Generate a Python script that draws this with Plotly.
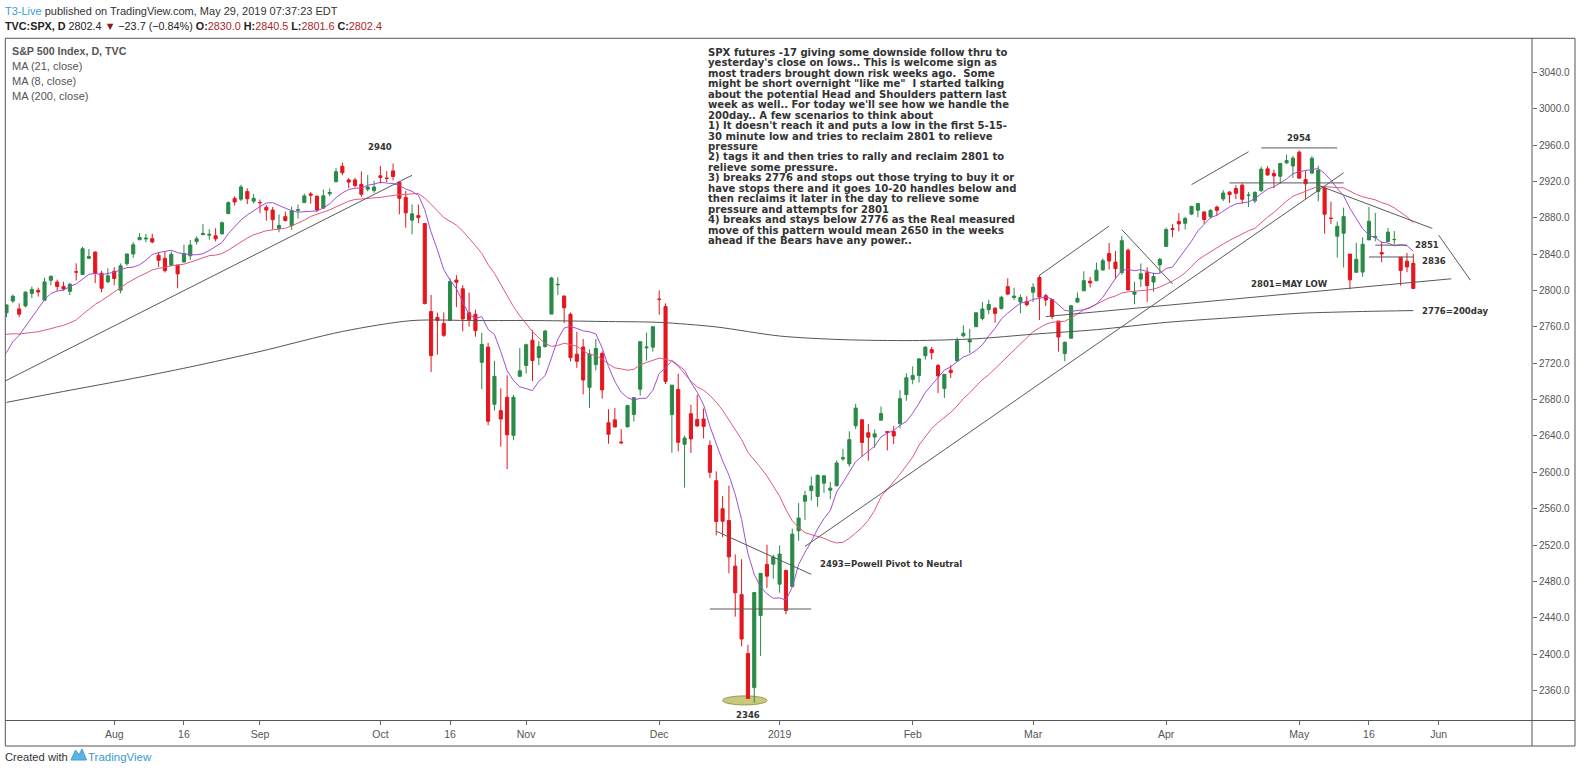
import pandas as pd
import plotly.graph_objects as go

# ---------------- data ----------------
HOLIDAYS = ["2018-07-04", "2018-09-03", "2018-11-22", "2018-12-05", "2018-12-25",
            "2019-01-01", "2019-01-21", "2019-02-18", "2019-04-19", "2019-05-27"]

# closes before the first visible bar (used only to warm up the 8/21 averages)
PRE_CLOSE = [2734.62, 2746.87, 2748.80, 2772.35, 2770.37, 2779.03, 2782.00, 2786.85,
             2775.63, 2782.49, 2779.66, 2773.75, 2762.59, 2767.32, 2749.76, 2754.88,
             2717.07, 2723.06, 2699.63, 2716.31, 2718.37, 2726.71, 2713.22, 2736.61, 2759.82]

OPEN = [
    # Jul 2018
    2775.62, 2788.56, 2779.82, 2783.14, 2796.93, 2800.30, 2789.34, 2811.35, 2809.37, 2804.55,
    2799.17, 2820.68, 2817.73, 2835.49, 2842.35, 2819.00, 2809.73,
    # Aug
    2821.17, 2800.48, 2829.62, 2840.29, 2855.92, 2856.79, 2857.19, 2838.90, 2835.46, 2827.88,
    2827.95, 2831.44, 2838.32, 2853.93, 2861.51, 2860.99, 2860.29, 2862.35, 2884.69, 2901.45,
    2900.62, 2908.94, 2898.37,
    # Sep
    2896.96, 2891.59, 2888.64, 2868.26, 2881.39, 2871.57, 2888.29, 2896.85, 2906.38, 2903.83,
    2890.74, 2906.60, 2919.73, 2936.76, 2921.83, 2921.75, 2916.98, 2911.65, 2910.03,
    # Oct
    2926.29, 2923.80, 2931.69, 2919.35, 2902.54, 2877.53, 2882.51, 2873.90, 2776.87, 2770.54,
    2763.83, 2767.05, 2811.67, 2802.00, 2775.66, 2773.94, 2721.03, 2737.87, 2674.88, 2667.86,
    2682.65, 2640.68, 2705.60,
    # Nov
    2717.58, 2745.45, 2726.37, 2738.40, 2774.13, 2806.38, 2794.10, 2773.93, 2730.05, 2737.90,
    2693.52, 2718.54, 2730.74, 2654.60, 2657.74, 2633.36, 2649.97, 2663.75, 2691.45, 2736.97,
    2737.76,
    # Dec
    2790.50, 2782.43, 2663.51, 2691.26, 2630.86, 2664.44, 2658.23, 2658.70, 2629.68, 2590.75,
    2559.90, 2547.05, 2496.77, 2465.38, 2400.56, 2363.12, 2442.50, 2498.77, 2498.94,
    # Jan 2019
    2476.96, 2491.92, 2474.33, 2535.61, 2568.11, 2580.00, 2573.51, 2588.11, 2580.31, 2585.10,
    2614.75, 2609.28, 2651.27, 2657.88, 2643.48, 2638.84, 2657.44, 2644.97, 2644.89, 2653.62,
    2685.49,
    # Feb
    2702.32, 2706.49, 2728.34, 2735.05, 2717.53, 2692.36, 2712.40, 2722.61, 2750.30, 2743.50,
    2760.24, 2769.28, 2779.05, 2780.67, 2780.24, 2804.35, 2792.36, 2787.50, 2788.11,
    # Mar
    2798.22, 2814.37, 2794.41, 2790.27, 2766.53, 2730.79, 2747.61, 2787.34, 2799.78, 2810.38,
    2810.79, 2822.61, 2840.76, 2831.34, 2819.72, 2844.52, 2796.01, 2812.66, 2819.72, 2809.40,
    2828.27,
    # Apr
    2848.63, 2868.24, 2876.09, 2873.99, 2884.16, 2888.46, 2886.58, 2881.37, 2891.92, 2900.86,
    2908.32, 2912.26, 2916.04, 2904.81, 2898.78, 2909.99, 2934.00, 2928.99, 2925.81, 2940.58,
    2937.14,
    # May
    2952.33, 2922.16, 2929.21, 2908.89, 2913.03, 2879.61, 2859.84, 2863.10, 2840.19, 2820.12,
    2820.38, 2855.80, 2858.60, 2841.94, 2854.02, 2856.06, 2836.70, 2832.41, 2830.03,
]

HIGH = [
    2784.65, 2795.58, 2785.91, 2799.22, 2804.53, 2803.20, 2814.19, 2816.76, 2812.05, 2809.70,
    2808.61, 2829.99, 2848.03, 2845.57, 2843.17, 2821.74, 2824.46,
    2825.83, 2829.91, 2840.38, 2853.29, 2863.43, 2862.44, 2862.48, 2842.20, 2843.40, 2843.11,
    2827.95, 2850.49, 2855.63, 2859.76, 2873.23, 2867.54, 2868.78, 2876.16, 2898.25, 2903.77,
    2916.50, 2912.46, 2906.32,
    2900.18, 2894.21, 2892.05, 2883.81, 2886.93, 2892.52, 2894.65, 2906.76, 2908.30, 2904.65,
    2911.17, 2912.36, 2934.80, 2940.91, 2923.79, 2923.95, 2931.15, 2927.22, 2920.53,
    2937.06, 2931.42, 2939.86, 2919.78, 2909.64, 2894.83, 2894.83, 2874.02, 2795.14, 2775.77,
    2775.99, 2813.46, 2816.94, 2806.04, 2797.77, 2778.94, 2753.59, 2742.59, 2722.70, 2692.38,
    2706.85, 2685.43, 2736.69,
    2741.67, 2756.55, 2744.27, 2756.82, 2815.15, 2814.75, 2794.10, 2775.99, 2754.60, 2746.80,
    2735.38, 2746.75, 2733.16, 2669.44, 2670.73, 2647.55, 2674.35, 2682.53, 2744.00, 2753.75,
    2760.88,
    2800.18, 2785.93, 2696.15, 2708.54, 2640.27, 2674.35, 2685.44, 2670.19, 2635.07, 2601.13,
    2573.99, 2585.29, 2509.63, 2504.41, 2410.34, 2467.76, 2489.10, 2520.27, 2509.24,
    2519.49, 2493.14, 2538.07, 2566.16, 2579.82, 2595.32, 2597.82, 2596.27, 2589.32, 2613.08,
    2625.76, 2645.06, 2675.47, 2657.88, 2653.19, 2647.20, 2672.38, 2644.97, 2650.93, 2690.44,
    2708.95,
    2716.66, 2724.99, 2738.98, 2738.08, 2719.32, 2708.07, 2718.05, 2748.19, 2761.85, 2757.90,
    2775.66, 2787.33, 2789.88, 2781.58, 2794.20, 2813.49, 2803.12, 2795.76, 2793.73,
    2808.02, 2816.88, 2796.44, 2790.27, 2766.53, 2744.13, 2784.00, 2798.03, 2821.24, 2815.00,
    2830.73, 2835.41, 2852.42, 2843.54, 2860.31, 2846.16, 2809.79, 2829.87, 2825.56, 2819.71,
    2836.03,
    2869.40, 2872.90, 2885.25, 2881.28, 2893.24, 2895.95, 2886.88, 2889.71, 2893.42, 2910.54,
    2909.60, 2916.06, 2918.00, 2908.40, 2909.51, 2936.31, 2936.83, 2933.10, 2939.88, 2949.52,
    2948.22,
    2954.13, 2931.68, 2947.85, 2937.32, 2913.03, 2897.96, 2875.97, 2891.31, 2840.19, 2852.54,
    2858.68, 2892.15, 2885.48, 2853.86, 2868.88, 2865.47, 2836.70, 2841.36, 2840.51,
]

LOW = [
    2770.73, 2786.24, 2770.77, 2781.53, 2791.69, 2793.40, 2789.24, 2805.89, 2799.77, 2800.01,
    2795.14, 2811.12, 2817.73, 2835.26, 2808.34, 2798.11, 2808.06,
    2805.85, 2796.94, 2827.37, 2835.98, 2855.92, 2853.09, 2851.98, 2825.81, 2819.88, 2826.58,
    2802.49, 2831.44, 2833.73, 2850.62, 2861.32, 2856.05, 2854.03, 2862.35, 2884.69, 2893.50,
    2898.40, 2895.22, 2895.77,
    2885.13, 2876.92, 2867.29, 2864.12, 2875.94, 2866.78, 2879.20, 2896.39, 2895.77, 2886.16,
    2890.43, 2903.82, 2919.73, 2927.11, 2912.63, 2913.70, 2903.28, 2909.27, 2907.50,
    2917.91, 2919.37, 2921.36, 2883.92, 2869.29, 2862.08, 2874.27, 2784.86, 2710.51, 2729.44,
    2749.03, 2766.91, 2781.81, 2755.18, 2760.27, 2749.22, 2691.43, 2651.89, 2667.84, 2628.16,
    2603.54, 2635.34, 2705.60,
    2708.85, 2700.44, 2717.94, 2737.08, 2774.13, 2794.99, 2764.24, 2722.00, 2714.98, 2685.75,
    2670.75, 2712.16, 2681.09, 2631.52, 2649.82, 2631.09, 2649.97, 2655.89, 2684.38, 2722.94,
    2732.76,
    2773.38, 2697.18, 2621.53, 2623.14, 2583.23, 2621.30, 2650.26, 2637.27, 2593.84, 2530.54,
    2528.71, 2488.96, 2441.18, 2408.55, 2351.10, 2346.58, 2397.94, 2472.89, 2482.82,
    2467.47, 2443.96, 2474.33, 2524.56, 2547.56, 2568.89, 2562.02, 2577.40, 2570.41, 2585.10,
    2612.68, 2606.36, 2647.58, 2617.27, 2612.86, 2627.01, 2657.33, 2624.06, 2631.05, 2648.34,
    2678.65,
    2696.88, 2698.75, 2724.03, 2724.15, 2687.26, 2681.83, 2703.79, 2722.61, 2748.63, 2731.23,
    2760.24, 2767.29, 2774.06, 2764.55, 2779.11, 2794.99, 2789.47, 2775.13, 2782.51,
    2787.38, 2767.66, 2782.97, 2768.69, 2732.81, 2722.27, 2747.61, 2786.73, 2799.78, 2803.46,
    2810.79, 2821.99, 2823.27, 2812.43, 2817.38, 2800.47, 2785.02, 2803.99, 2787.72, 2798.77,
    2819.23,
    2848.63, 2858.75, 2865.17, 2867.14, 2882.99, 2880.78, 2873.33, 2879.13, 2881.99, 2898.37,
    2896.48, 2900.71, 2895.45, 2891.90, 2896.35, 2908.53, 2926.47, 2912.84, 2917.56, 2939.35,
    2924.11,
    2923.36, 2900.50, 2929.21, 2898.21, 2862.60, 2873.28, 2836.40, 2825.39, 2801.43, 2820.12,
    2815.08, 2855.80, 2854.23, 2831.29, 2854.02, 2851.11, 2805.49, 2820.19, 2801.58,
]

CLOSE = [
    2784.17, 2793.84, 2774.02, 2798.29, 2801.31, 2798.43, 2809.55, 2815.62, 2804.49, 2801.83,
    2806.98, 2820.40, 2846.07, 2837.44, 2818.82, 2802.60, 2816.29,
    2813.36, 2827.22, 2840.35, 2850.40, 2858.45, 2857.70, 2853.58, 2833.28, 2821.93, 2839.96,
    2818.37, 2840.69, 2850.13, 2857.05, 2862.96, 2861.82, 2856.98, 2874.69, 2896.74, 2897.52,
    2914.04, 2901.13, 2901.52,
    2896.72, 2888.60, 2878.05, 2871.68, 2877.13, 2887.89, 2888.92, 2904.18, 2904.98, 2888.80,
    2904.31, 2907.95, 2930.75, 2929.67, 2919.37, 2915.56, 2905.97, 2914.00, 2913.98,
    2924.59, 2923.43, 2925.51, 2901.61, 2885.57, 2884.43, 2880.34, 2785.68, 2728.37, 2767.13,
    2750.79, 2809.92, 2809.21, 2768.78, 2767.78, 2755.88, 2740.69, 2656.10, 2705.57, 2658.69,
    2641.25, 2682.63, 2711.74,
    2740.37, 2723.06, 2738.31, 2755.45, 2813.89, 2806.83, 2781.01, 2726.22, 2722.18, 2701.58,
    2730.20, 2736.27, 2690.73, 2641.89, 2649.93, 2632.56, 2673.45, 2682.17, 2743.79, 2737.80,
    2760.17,
    2790.37, 2700.06, 2695.95, 2633.08, 2637.72, 2636.78, 2651.07, 2650.54, 2599.95, 2545.94,
    2546.16, 2506.96, 2467.42, 2416.62, 2351.10, 2467.70, 2488.83, 2485.74, 2506.85,
    2510.03, 2447.89, 2531.94, 2549.69, 2574.41, 2584.96, 2596.64, 2596.26, 2582.61, 2610.30,
    2616.10, 2635.96, 2670.71, 2632.90, 2638.70, 2642.33, 2664.76, 2643.85, 2640.00, 2681.05,
    2704.10,
    2706.53, 2724.87, 2737.70, 2731.61, 2706.05, 2707.88, 2709.80, 2744.73, 2753.03, 2745.73,
    2775.60, 2779.76, 2784.70, 2774.88, 2792.67, 2796.11, 2793.90, 2792.38, 2784.49,
    2803.69, 2792.81, 2789.65, 2771.45, 2748.93, 2743.07, 2783.30, 2791.52, 2810.92, 2808.48,
    2822.48, 2832.94, 2832.57, 2824.23, 2854.88, 2800.71, 2798.36, 2818.46, 2805.37, 2815.44,
    2834.40,
    2867.19, 2867.24, 2873.40, 2879.39, 2892.74, 2895.77, 2878.20, 2888.21, 2888.32, 2907.41,
    2905.58, 2907.06, 2900.45, 2905.03, 2907.97, 2933.68, 2927.25, 2926.17, 2939.88, 2943.03,
    2945.83,
    2923.73, 2917.52, 2945.64, 2932.47, 2884.05, 2879.42, 2870.72, 2881.40, 2811.87, 2834.41,
    2850.96, 2876.32, 2859.53, 2840.23, 2864.36, 2856.27, 2822.24, 2826.06, 2802.39,
]

# 200-day average
MA200_DATES = ["2018-07-09", "2018-07-20", "2018-08-03", "2018-08-17", "2018-09-04",
               "2018-09-21", "2018-10-08", "2018-10-22", "2018-11-05", "2018-11-19",
               "2018-12-03", "2018-12-17", "2019-01-02", "2019-01-16", "2019-02-01",
               "2019-02-15", "2019-03-01", "2019-03-15", "2019-04-01", "2019-04-15",
               "2019-05-01", "2019-05-15", "2019-05-28"]
MA200_VALUES = [2677, 2689, 2702, 2716, 2733, 2755, 2767, 2767, 2767, 2766,
                2765, 2760, 2750, 2746, 2745, 2747, 2752, 2757, 2765, 2770,
                2775, 2777, 2778]

TICK_DATES = ["2018-08-01", "2018-08-16", "2018-09-04", "2018-10-01", "2018-10-16",
              "2018-11-01", "2018-12-03", "2019-01-02", "2019-02-01", "2019-03-01",
              "2019-04-01", "2019-05-01", "2019-05-16", "2019-06-03"]
TICK_TEXT = ["Aug", "16", "Sep", "Oct", "16", "Nov", "Dec", "2019", "Feb", "Mar",
             "Apr", "May", "16", "Jun"]
PRICE_TICKS = list(range(2360, 3041, 40))

# drawn trend lines: (date0, value0, date1, value1)
TRENDLINES = [
    ("2018-07-06", 2697.7, "2018-10-08", 2926.9),
    ("2019-01-08", 2518.4, "2019-05-10", 2929.6),
    ("2018-12-17", 2535.2, "2019-01-09", 2487.7),
    ("2018-12-14", 2449.6, "2019-01-09", 2449.6),
    ("2019-03-04", 2816.8, "2019-03-19", 2871.0),
    ("2019-03-21", 2867.1, "2019-04-02", 2807.3),
    ("2019-04-05", 2916.6, "2019-04-18", 2952.8),
    ("2019-04-23", 2957.0, "2019-05-09", 2957.0),
    ("2019-04-15", 2918.5, "2019-05-10", 2918.5),
    ("2019-03-05", 2771.4, "2019-06-05", 2813.0),
    ("2019-05-06", 2915.8, "2019-05-31", 2868.4),
    ("2019-06-03", 2861.0, "2019-06-10", 2811.5),
    ("2019-05-17", 2850.0, "2019-05-24", 2850.0),
    ("2019-05-16", 2837.0, "2019-05-28", 2837.0),
]
ELLIPSE = ("2018-12-18", 2344.0, "2018-12-28", 2354.0)

LEVEL_LABELS = [
    ("2940", "2018-10-01", 2959.0, "center"),
    ("2954", "2019-05-01", 2968.7, "center"),
    ("2346", "2018-12-24", 2334.0, "center"),
    ("2493=Powell Pivot to Neutral", "2019-01-10", 2499.4, "left"),
    ("2801=MAY LOW", "2019-04-18", 2808.0, "left"),
    ("2776=200day", "2019-05-29", 2778.0, "left"),
    ("2851", "2019-05-28", 2850.2, "left"),
    ("2836", "2019-05-29", 2832.6, "left"),
]

NOTE_LINES = [
    "SPX futures -17 giving some downside follow thru to",
    "yesterday's close on lows.. This is welcome sign as",
    "most traders brought down risk weeks ago.  Some",
    "might be short overnight \"like me\"  I started talking",
    "about the potential Head and Shoulders pattern last",
    "week as well.. For today we'll see how we handle the",
    "200day.. A few scenarios to think about",
    "1) It doesn't reach it and puts a low in the first 5-15-",
    "30 minute low and tries to reclaim 2801 to relieve",
    "pressure",
    "2) tags it and then tries to rally and reclaim 2801 to",
    "relieve some pressure.",
    "3) breaks 2776 and stops out those trying to buy it or",
    "have stops there and it goes 10-20 handles below and",
    "then reclaims it later in the day to relieve some",
    "pressure and attempts for 2801",
    "4) breaks and stays below 2776 as the Real measured",
    "move of this pattern would mean 2650 in the weeks",
    "ahead if the Bears have any power..",
]

LEGEND_LINES = ["S&P 500 Index, D, TVC", "MA (21, close)", "MA (8, close)", "MA (200, close)"]

# ---------------- calendar / positions ----------------
cal = pd.bdate_range("2018-06-01", "2019-07-12", freq="C", holidays=HOLIDAYS)
CAL = [d.strftime("%Y-%m-%d") for d in cal]
POS = {d: i for i, d in enumerate(CAL)}
DATES = [d for d in CAL if "2018-07-09" <= d <= "2019-05-28"]
assert len(DATES) == len(CLOSE) == len(OPEN) == len(HIGH) == len(LOW)
PRE_DATES = [d for d in CAL if d < "2018-07-09"]
assert len(PRE_DATES) == len(PRE_CLOSE)

X = [POS[d] for d in DATES]
all_dates = PRE_DATES + DATES
all_close = pd.Series(PRE_CLOSE + CLOSE)
ma8 = all_close.rolling(8).mean()
ma21 = all_close.rolling(21).mean()
all_x = [POS[d] for d in all_dates]

# ---------------- layout geometry ----------------
W, H = 1578, 775
ML, MR, MT, MB = 5, 46, 38, 55
PW, PH = W - ML - MR, H - MT - MB


def px(x):
    return (x - ML) / PW


def py(y):
    return (H - MB - y) / PH


UP, DOWN = "#2a8a48", "#e4161e"
C_MA8, C_MA21, C_MA200 = "#a14fd3", "#e0587f", "#555555"
LINE_C = "#5a5a5a"
LBL_FONT = "DejaVu Sans Condensed, DejaVu Sans, Verdana, sans-serif"
UI_FONT = "Liberation Sans, Arial, sans-serif"
NARROW = "Liberation Sans Narrow, Liberation Sans, Arial, sans-serif"

fig = go.Figure()

fig.add_trace(go.Scatter(x=all_x, y=ma21, mode="lines",
                         line=dict(color=C_MA21, width=1), hoverinfo="skip"))
fig.add_trace(go.Scatter(x=all_x, y=ma8, mode="lines",
                         line=dict(color=C_MA8, width=1), hoverinfo="skip"))
fig.add_trace(go.Scatter(x=[POS[d] for d in MA200_DATES], y=MA200_VALUES, mode="lines",
                         line=dict(color=C_MA200, width=1, shape="spline", smoothing=0.8),
                         hoverinfo="skip"))

fig.add_trace(go.Candlestick(
    x=X, open=OPEN, high=HIGH, low=LOW, close=CLOSE,
    increasing=dict(line=dict(color=UP, width=1), fillcolor=UP),
    decreasing=dict(line=dict(color=DOWN, width=1), fillcolor=DOWN),
    whiskerwidth=0, showlegend=False,
))

shapes = []
for d0, v0, d1, v1 in TRENDLINES:
    shapes.append(dict(type="line", xref="x", yref="y", x0=POS[d0], y0=v0, x1=POS[d1], y1=v1,
                       line=dict(color=LINE_C, width=1)))
e0, ev0, e1, ev1 = ELLIPSE
shapes.append(dict(type="circle", xref="x", yref="y", x0=POS[e0], y0=ev0, x1=POS[e1], y1=ev1,
                   fillcolor="rgba(190,190,105,0.85)", line=dict(color="rgba(150,150,70,0.9)", width=1),
                   layer="below"))

# frame
FR_L, FR_R, FR_T, FR_B = 5.3, 1575, 38.3, 746
SEP_X, SEP_Y = 1532, 720.5
for (xa, ya, xb, yb) in [(FR_L, FR_T, FR_R, FR_T), (FR_L, FR_B, FR_R, FR_B),
                         (FR_L, FR_T, FR_L, FR_B), (FR_R, FR_T, FR_R, FR_B),
                         (SEP_X, FR_T, SEP_X, FR_B), (FR_L, SEP_Y, FR_R, SEP_Y)]:
    shapes.append(dict(type="line", xref="paper", yref="paper", x0=px(xa), y0=py(ya),
                       x1=px(xb), y1=py(yb), line=dict(color="#555555", width=1)))

# tradingview logo (small cloud)
shapes.append(dict(type="path", xref="paper", yref="paper",
                   path="M {} {} L {} {} L {} {} L {} {} L {} {} Z".format(
                       px(71), py(760), px(75.5), py(750), px(79), py(755), px(82), py(749),
                       px(86.5), py(760)),
                   fillcolor="#5eb4e0", line=dict(color="#3d9fd6", width=1)))

annotations = []
for text, d, v, anchor in LEVEL_LABELS:
    annotations.append(dict(x=POS[d], y=v, xref="x", yref="y", text=text, showarrow=False,
                            xanchor=anchor, yanchor="middle",
                            font=dict(family=LBL_FONT, size=9.5, color="#333333", weight="bold")))

for i, line in enumerate(NOTE_LINES):
    annotations.append(dict(x=px(707), y=py(52.5 + i * 10.45), xref="paper", yref="paper",
                            text=line, showarrow=False, xanchor="left", yanchor="middle",
                            borderpad=0,
                            font=dict(family=LBL_FONT, size=11.2, color="#333333", weight="bold")))

for i, line in enumerate(LEGEND_LINES):
    annotations.append(dict(x=px(10), y=py(50.6 + i * 15.2), xref="paper", yref="paper",
                            text=line, showarrow=False, xanchor="left", yanchor="middle",
                            font=dict(family=UI_FONT, size=11 if i else 10.7, color="#555555",
                                      weight="bold" if i == 0 else "normal")))

RED_V = "#a8262b"
header1 = ("<span style='color:#3a9bd1'>T3-Live</span>"
           "<span style='color:#333'> published on TradingView.com, May 29, 2019 07:37:23 EDT</span>")
header2 = ("<b>TVC:SPX, D</b> 2802.4 <span style='color:#8b1a1a'>▼</span> −23.7 (−0.84%) "
           "<b>O:</b><span style='color:{c}'>2830.0</span> <b>H:</b><span style='color:{c}'>2840.5</span> "
           "<b>L:</b><span style='color:{c}'>2801.6</span> <b>C:</b><span style='color:{c}'>2802.4</span>"
           ).format(c=RED_V)
annotations.append(dict(x=px(3), y=py(10.5), xref="paper", yref="paper", text=header1,
                        showarrow=False, xanchor="left", yanchor="middle",
                        font=dict(family=UI_FONT, size=11, color="#333")))
annotations.append(dict(x=px(3), y=py(26), xref="paper", yref="paper", text=header2,
                        showarrow=False, xanchor="left", yanchor="middle",
                        font=dict(family=UI_FONT, size=10.8, color="#222")))
annotations.append(dict(x=px(3), y=py(757), xref="paper", yref="paper", text="Created with",
                        showarrow=False, xanchor="left", yanchor="middle",
                        font=dict(family=UI_FONT, size=11.2, color="#333")))
annotations.append(dict(x=px(86), y=py(757), xref="paper", yref="paper", text="TradingView",
                        showarrow=False, xanchor="left", yanchor="middle",
                        font=dict(family=UI_FONT, size=11.5, color="#3a9bd1")))

j9 = POS["2018-07-09"]
BAR_PX = 6.337
x_left = j9 + (ML - 6.5) / BAR_PX
x_right = x_left + PW / BAR_PX
PX_PER_PT = 0.9087
y_top = 3040 + (72.5 - MT) / PX_PER_PT
y_bot = 3040 - (H - MB - 72.5) / PX_PER_PT

fig.update_layout(
    width=W, height=H,
    margin=dict(l=ML, r=MR, t=MT, b=MB),
    paper_bgcolor="white", plot_bgcolor="white",
    showlegend=False,
    shapes=shapes, annotations=annotations,
    xaxis=dict(range=[x_left, x_right], showgrid=False, zeroline=False,
               rangeslider=dict(visible=False),
               tickvals=[POS[d] for d in TICK_DATES], ticktext=TICK_TEXT,
               ticks="outside", ticklen=4, tickcolor="#666",
               tickfont=dict(family=NARROW, size=10.5, color="#555")),
    yaxis=dict(range=[y_bot, y_top], side="right", showgrid=False, zeroline=False,
               tickmode="array", tickvals=PRICE_TICKS, tickformat=".1f",
               ticks="outside", ticklen=4, tickcolor="#666",
               tickfont=dict(family=NARROW, size=10, color="#555")),
)

fig.write_html("out.html", config={"displayModeBar": False},
               post_script="document.body.style.margin='0px';")
